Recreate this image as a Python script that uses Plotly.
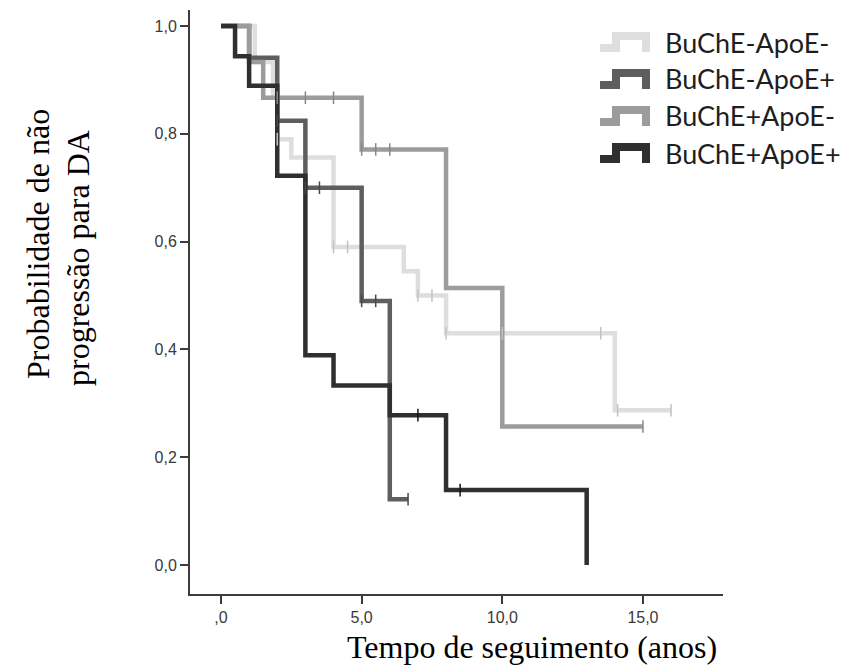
import plotly.graph_objects as go

# ---------------- data ----------------
series_names = ["BuChE-ApoE-", "BuChE-ApoE+", "BuChE+ApoE-", "BuChE+ApoE+"]

# step times (start of each level) and survival level from that time
times_a = [0.0, 1.2, 1.85, 2.0, 2.5, 4.0, 6.5, 7.0, 8.0, 14.0]
surv_a = [1.0, 0.933, 0.867, 0.79, 0.756, 0.59, 0.545, 0.50, 0.43, 0.287]
end_a = 16.0
cens_a = [2.0, 4.0, 4.5, 7.0, 7.5, 8.0, 10.0, 13.5, 14.1, 16.0]

times_b = [0.0, 1.0, 2.0, 3.0, 5.0, 6.0]
surv_b = [1.0, 0.941, 0.824, 0.70, 0.49, 0.122]
end_b = 6.65
cens_b = [2.0, 3.0, 3.5, 5.0, 5.5, 6.65]

times_c = [0.0, 1.0, 1.5, 5.0, 8.0, 10.0]
surv_c = [1.0, 0.933, 0.867, 0.771, 0.514, 0.257]
end_c = 15.0
cens_c = [2.0, 3.0, 4.0, 5.0, 5.5, 6.0, 15.0]

times_d = [0.0, 0.5, 1.0, 2.0, 3.0, 4.0, 6.0, 8.0, 13.0]
surv_d = [1.0, 0.944, 0.889, 0.722, 0.389, 0.333, 0.278, 0.139, 0.0]
end_d = 13.0
cens_d = [7.0, 8.5]

x_tickvals = [0, 5, 10, 15]
x_ticktext = [",0", "5,0", "10,0", "15,0"]
y_tickvals = [0.0, 0.2, 0.4, 0.6, 0.8, 1.0]
y_ticktext = ["0,0", "0,2", "0,4", "0,6", "0,8", "1,0"]

x_title = "Tempo de seguimento (anos)"
y_title_1 = "Probabilidade de não"
y_title_2 = "progressão para DA"

# ---------------- style ----------------
colors = ["#dedede", "#5e5e5e", "#9c9c9c", "#2f2f2f"]
cens_colors = ["#c2c2c2", "#484848", "#878787", "#151515"]

W, H = 842, 666
L, R, T, B = 190, 119, 10, 72
PW, PH = W - L - R, H - T - B


def px2paper_x(px):
    return (px - L) / PW


def px2paper_y(py):
    return (H - B - py) / PH


def surv_at(times, surv, t):
    val = surv[0]
    for ti, si in zip(times, surv):
        if ti <= t:
            val = si
    return val


fig = go.Figure()
data = [
    (times_a, surv_a, end_a, cens_a),
    (times_b, surv_b, end_b, cens_b),
    (times_c, surv_c, end_c, cens_c),
    (times_d, surv_d, end_d, cens_d),
]
for i, (tt, ss, ee, cc) in enumerate(data):
    xs = list(tt) + [ee]
    ys = list(ss) + [ss[-1]]
    fig.add_trace(go.Scatter(
        x=xs, y=ys, mode="lines", line=dict(color=colors[i], width=4.5, shape="hv"),
        name=series_names[i], showlegend=False, hoverinfo="skip"))
for i, (tt, ss, ee, cc) in enumerate(data):
    fig.add_trace(go.Scatter(
        x=cc, y=[surv_at(tt, ss, c) for c in cc], mode="markers",
        marker=dict(symbol="line-ns", size=9, line=dict(color=cens_colors[i], width=1.5)),
        showlegend=False, hoverinfo="skip"))

# custom legend with step-shaped icons
legend_rows = [42, 79, 116, 153]
shapes = []
annotations = []
for i, cy in enumerate(legend_rows):
    pts = [(600, cy + 6), (616, cy + 6), (616, cy - 6), (646, cy - 6), (646, cy + 10)]
    path = "M " + " L ".join(f"{px2paper_x(a):.5f},{px2paper_y(b):.5f}" for a, b in pts)
    shapes.append(dict(type="path", xref="paper", yref="paper", path=path,
                       line=dict(color=colors[i], width=8)))
    annotations.append(dict(xref="paper", yref="paper", x=px2paper_x(663), y=px2paper_y(cy),
                            xanchor="left", yanchor="middle", showarrow=False,
                            text=series_names[i],
                            font=dict(family="Lato", size=27, color="#1e1e1e")))

annotations.append(dict(xref="paper", yref="paper", x=px2paper_x(532), y=px2paper_y(647),
                        xanchor="center", yanchor="middle", showarrow=False, text=x_title,
                        font=dict(family="Liberation Serif", size=32, color="#000000")))
annotations.append(dict(xref="paper", yref="paper", x=px2paper_x(38), y=px2paper_y(244),
                        xanchor="center", yanchor="middle", showarrow=False, text=y_title_1,
                        textangle=-90,
                        font=dict(family="Liberation Serif", size=32, color="#000000")))
annotations.append(dict(xref="paper", yref="paper", x=px2paper_x(78), y=px2paper_y(258),
                        xanchor="center", yanchor="middle", showarrow=False, text=y_title_2,
                        textangle=-90,
                        font=dict(family="Liberation Serif", size=32, color="#000000")))

axis_common = dict(showgrid=False, zeroline=False, showline=True, linecolor="#3c3c3c",
                   linewidth=2, ticks="outside", ticklen=8, tickwidth=1.5,
                   tickcolor="#3c3c3c",
                   tickfont=dict(family="Liberation Sans", size=16, color="#3a3a3a"))

fig.update_layout(
    width=W, height=H,
    margin=dict(l=L, r=R, t=T, b=B),
    paper_bgcolor="white", plot_bgcolor="white",
    xaxis=dict(range=[-1.102, 17.846], tickvals=x_tickvals, ticktext=x_ticktext, **axis_common),
    yaxis=dict(range=[-0.0538, 1.0297], tickvals=y_tickvals, ticktext=y_ticktext, **axis_common),
    shapes=shapes, annotations=annotations, showlegend=False,
)

fig.write_html("out.html")
